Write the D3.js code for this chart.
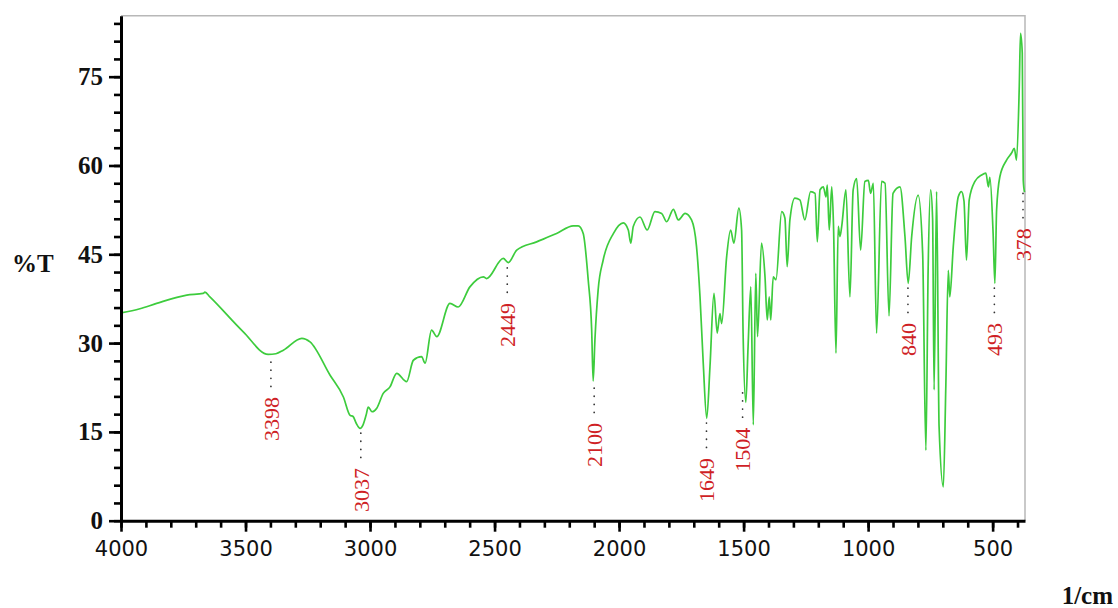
<!DOCTYPE html>
<html>
<head>
<meta charset="utf-8">
<script src="https://cdn.jsdelivr.net/npm/d3@7"></script>
<style>
  body { margin: 0; background: #fff; }
  svg { display: block; }
</style>
</head>
<body>
<div id="chart"></div>
<script>
// IR spectrum (wavenumber in 1/cm, %T)
const wavenumber = [4000, 3924, 3857, 3736, 3670, 3663, 3643, 3509, 3409, 3378, 3348, 3274, 3241, 3161, 3107, 3080, 3068, 3056, 3040, 3028, 3016, 3007, 2992, 2973, 2947, 2920, 2893, 2853, 2826, 2793, 2779, 2753, 2732, 2679, 2646, 2599, 2545, 2532, 2465, 2445, 2411, 2331, 2251, 2184, 2164, 2144, 2124, 2110, 2104, 2097, 2084, 2064, 2023, 1983, 1963, 1953, 1943, 1916, 1887, 1856, 1829, 1809, 1782, 1762, 1735, 1709, 1689, 1675, 1662, 1648, 1635, 1619, 1606, 1595, 1588, 1568, 1552, 1539, 1519, 1508, 1502, 1491, 1482, 1471, 1461, 1451, 1444, 1428, 1414, 1405, 1397, 1391, 1381, 1370, 1347, 1334, 1325, 1314, 1294, 1274, 1254, 1231, 1213, 1204, 1193, 1180, 1169, 1164, 1156, 1146, 1139, 1129, 1120, 1113, 1106, 1089, 1073, 1060, 1046, 1030, 1013, 999, 990, 979, 966, 946, 932, 916, 900, 872, 852, 839, 825, 799, 781, 768, 759, 749, 741, 735, 725, 715, 698, 688, 678, 672, 658, 638, 625, 615, 605, 594, 571, 544, 527, 517, 511, 498, 491, 484, 471, 444, 424, 413, 404, 393, 388, 381, 377, 372];
const transmittance = [35.1, 35.8, 36.7, 38.1, 38.4, 38.6, 37.8, 31.9, 28.1, 28.2, 28.8, 30.8, 30.2, 24.6, 20.9, 17.8, 17.6, 16.5, 15.6, 16.2, 17.8, 19.2, 18.4, 19.0, 21.5, 22.6, 24.9, 23.5, 27.1, 27.7, 26.6, 32.2, 31.1, 36.7, 36.1, 39.5, 41.2, 40.9, 44.3, 43.6, 45.7, 47.1, 48.5, 49.8, 49.8, 48.5, 40.7, 32.2, 23.6, 30.5, 39.0, 44.0, 48.5, 50.3, 49.1, 46.9, 49.7, 51.3, 49.1, 52.2, 51.9, 50.5, 52.6, 50.8, 51.9, 50.8, 46.3, 37.8, 26.6, 17.3, 26.0, 38.4, 31.7, 35.0, 33.3, 44.6, 49.1, 46.9, 52.8, 49.1, 31.7, 20.0, 29.4, 39.5, 16.2, 41.8, 31.1, 46.9, 41.2, 33.9, 37.8, 33.9, 41.2, 40.7, 52.2, 51.1, 42.9, 50.8, 54.5, 54.2, 50.8, 55.6, 55.3, 47.1, 55.9, 56.4, 54.7, 56.7, 49.1, 56.4, 50.0, 28.3, 49.7, 48.0, 49.7, 55.9, 37.8, 55.9, 57.8, 45.7, 57.3, 57.5, 55.3, 57.0, 31.7, 57.3, 57.0, 34.6, 55.3, 56.4, 48.0, 40.1, 48.0, 55.0, 45.2, 11.9, 42.3, 55.9, 51.0, 22.1, 55.6, 15.9, 5.7, 22.6, 42.3, 37.8, 46.3, 54.7, 55.6, 54.0, 44.0, 54.2, 57.3, 58.4, 58.7, 56.4, 58.0, 48.5, 40.1, 52.5, 58.1, 60.9, 62.1, 62.9, 60.9, 73.3, 82.3, 79.0, 57.5, 55.5];

// marked peaks and the %T where their dotted leader starts
const peakWavenumbers = [3398, 3037, 2449, 2100, 1649, 1504, 840, 493, 378];
const peakLabelT = [26.8, 14.8, 42.7, 22.4, 16.5, 21.6, 39.3, 39.3, 55.3];

const xMajorTicks = [4000, 3500, 3000, 2500, 2000, 1500, 1000, 500];
const yMajorTicks = [0, 15, 30, 45, 60, 75];

const width = 1118, height = 608;
const plotLeft = 121, plotRight = 1025, plotTop = 15.7, plotBottom = 520.7;
const serif = '"Liberation Serif", "Times New Roman", serif';

const svg = d3.select('#chart').append('svg')
  .attr('width', width)
  .attr('height', height);

svg.append('rect').attr('width', width).attr('height', height).attr('fill', '#fff');

const x = d3.scaleLinear().domain([4000, 370]).range([plotLeft, plotRight]);
const y = d3.scaleLinear().domain([0, 85.3]).range([plotBottom, plotTop]);

// light frame on top and right
svg.append('path')
  .attr('d', `M${plotLeft},${plotTop}H${plotRight}V${plotBottom}`)
  .attr('fill', 'none')
  .attr('stroke', '#b8b8b8')
  .attr('stroke-width', 1.5);

// spectrum
const points = wavenumber.map((w, i) => [w, transmittance[i]]);
const line = d3.line()
  .x(d => x(d[0]))
  .y(d => y(d[1]))
  .curve(d3.curveMonotoneX);

svg.append('path')
  .datum(points)
  .attr('d', line)
  .attr('fill', 'none')
  .attr('stroke', '#3dcc3d')
  .attr('stroke-width', 1.7)
  .attr('stroke-linejoin', 'round');

// peak labels
const peaks = svg.append('g');
peakWavenumbers.forEach((w, i) => {
  const px = x(w);
  const py = y(peakLabelT[i]);
  peaks.append('line')
    .attr('x1', px).attr('x2', px)
    .attr('y1', py).attr('y2', py + 32)
    .attr('stroke', '#333')
    .attr('stroke-width', 1.7)
    .attr('stroke-linecap', 'round')
    .attr('stroke-dasharray', '0.1,8');
  peaks.append('text')
    .attr('transform', `translate(${px},${py + 35}) rotate(-90)`)
    .attr('dy', '0.35em')
    .attr('text-anchor', 'end')
    .attr('fill', '#cf1f26')
    .style('font-family', serif)
    .style('font-size', '22px')
    .text(w);
});

// x axis
const xMinor = svg.append('g')
  .attr('transform', `translate(0,${plotBottom})`)
  .call(d3.axisBottom(x).tickValues(d3.range(4000, 399, -100)).tickSize(7).tickSizeOuter(0).tickFormat(''));
xMinor.select('.domain').remove();

const xAxis = svg.append('g')
  .attr('transform', `translate(0,${plotBottom})`)
  .call(d3.axisBottom(x).tickValues(xMajorTicks).tickSize(11).tickSizeOuter(0).tickPadding(9).tickFormat(d3.format('d')));
xAxis.selectAll('text')
  .style('font-family', '"DejaVu Sans", Verdana, sans-serif')
  .style('font-size', '21px')
  .attr('fill', '#111');

// y axis
const yMinor = svg.append('g')
  .attr('transform', `translate(${plotLeft},0)`)
  .call(d3.axisLeft(y).tickValues(d3.range(0, 85, 3)).tickSize(7).tickSizeOuter(0).tickFormat(''));
yMinor.select('.domain').remove();

const yAxis = svg.append('g')
  .attr('transform', `translate(${plotLeft},0)`)
  .call(d3.axisLeft(y).tickValues(yMajorTicks).tickSize(12).tickSizeOuter(0).tickPadding(6));
yAxis.selectAll('text')
  .style('font-family', serif)
  .style('font-size', '25px')
  .style('font-weight', 'bold')
  .attr('fill', '#111');

[xMinor, xAxis, yMinor, yAxis].forEach(g => {
  g.selectAll('.tick line').attr('stroke', '#000').attr('stroke-width', 2.6);
  g.selectAll('.domain').attr('stroke', '#000').attr('stroke-width', 3);
});

// axis titles
svg.append('text')
  .attr('x', 12).attr('y', 272)
  .style('font-family', serif)
  .style('font-size', '25px')
  .style('font-weight', 'bold')
  .attr('fill', '#111')
  .text('%T');

svg.append('text')
  .attr('x', 1113).attr('y', 604)
  .attr('text-anchor', 'end')
  .style('font-family', serif)
  .style('font-size', '25px')
  .style('font-weight', 'bold')
  .attr('fill', '#111')
  .text('1/cm');
</script>
</body>
</html>
